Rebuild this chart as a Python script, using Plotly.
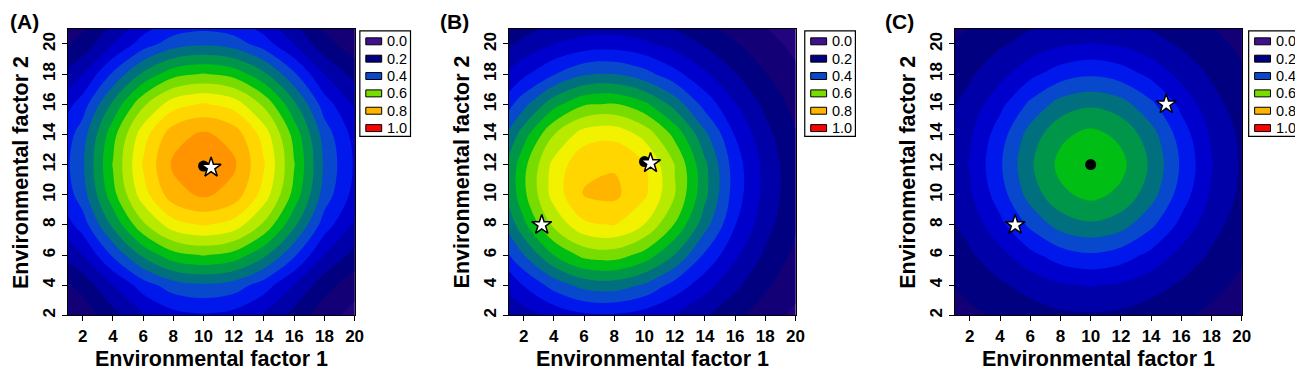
import plotly.graph_objects as go

W, H = 1303, 369
FONT = "Liberation Sans, Arial, Helvetica, sans-serif"

# ---------------- data ----------------
x_grid = [0, 2, 4, 6, 8, 10, 12, 14, 16, 18, 20]
y_grid = [2, 4, 6, 8, 10, 12, 14, 16, 18, 20, 22]

# Panel A surface (rows = y_grid, columns = x_grid)
z_A = [
    [0.133, 0.171, 0.233, 0.292, 0.332, 0.344, 0.332, 0.292, 0.233, 0.171, 0.133],
    [0.171, 0.219, 0.299, 0.375, 0.427, 0.442, 0.427, 0.375, 0.299, 0.219, 0.171],
    [0.233, 0.299, 0.408, 0.511, 0.582, 0.603, 0.582, 0.511, 0.408, 0.299, 0.233],
    [0.292, 0.375, 0.511, 0.640, 0.729, 0.755, 0.729, 0.640, 0.511, 0.375, 0.292],
    [0.332, 0.427, 0.582, 0.729, 0.830, 0.859, 0.830, 0.729, 0.582, 0.427, 0.332],
    [0.344, 0.442, 0.603, 0.755, 0.859, 0.890, 0.859, 0.755, 0.603, 0.442, 0.344],
    [0.332, 0.427, 0.582, 0.729, 0.830, 0.859, 0.830, 0.729, 0.582, 0.427, 0.332],
    [0.292, 0.375, 0.511, 0.640, 0.729, 0.755, 0.729, 0.640, 0.511, 0.375, 0.292],
    [0.233, 0.299, 0.408, 0.511, 0.582, 0.603, 0.582, 0.511, 0.408, 0.299, 0.233],
    [0.171, 0.219, 0.299, 0.375, 0.427, 0.442, 0.427, 0.375, 0.299, 0.219, 0.171],
    [0.133, 0.171, 0.233, 0.292, 0.332, 0.344, 0.332, 0.292, 0.233, 0.171, 0.133],
]

# Panel B surface
z_B = [
    [0.232, 0.277, 0.315, 0.340, 0.344, 0.327, 0.295, 0.255, 0.214, 0.175, 0.140],
    [0.288, 0.352, 0.420, 0.469, 0.476, 0.443, 0.381, 0.321, 0.262, 0.209, 0.165],
    [0.345, 0.448, 0.551, 0.616, 0.625, 0.582, 0.498, 0.392, 0.310, 0.242, 0.188],
    [0.397, 0.537, 0.661, 0.740, 0.752, 0.698, 0.597, 0.470, 0.352, 0.269, 0.205],
    [0.433, 0.587, 0.721, 0.803, 0.812, 0.760, 0.652, 0.513, 0.375, 0.284, 0.215],
    [0.431, 0.584, 0.716, 0.790, 0.795, 0.752, 0.649, 0.511, 0.374, 0.283, 0.214],
    [0.390, 0.528, 0.649, 0.725, 0.736, 0.685, 0.586, 0.462, 0.347, 0.266, 0.203],
    [0.336, 0.433, 0.533, 0.595, 0.604, 0.562, 0.481, 0.381, 0.303, 0.238, 0.184],
    [0.278, 0.339, 0.397, 0.444, 0.451, 0.419, 0.366, 0.309, 0.253, 0.203, 0.161],
    [0.222, 0.264, 0.300, 0.322, 0.326, 0.310, 0.281, 0.244, 0.205, 0.169, 0.136],
    [0.175, 0.202, 0.225, 0.239, 0.241, 0.232, 0.214, 0.189, 0.163, 0.136, 0.112],
]

# Panel C surface
z_C = [
    [0.167, 0.189, 0.209, 0.227, 0.239, 0.243, 0.239, 0.227, 0.209, 0.189, 0.167],
    [0.189, 0.216, 0.243, 0.268, 0.293, 0.303, 0.293, 0.268, 0.243, 0.216, 0.189],
    [0.209, 0.243, 0.284, 0.336, 0.376, 0.393, 0.376, 0.336, 0.284, 0.243, 0.209],
    [0.227, 0.268, 0.336, 0.411, 0.471, 0.492, 0.471, 0.411, 0.336, 0.268, 0.227],
    [0.239, 0.293, 0.376, 0.471, 0.539, 0.564, 0.539, 0.471, 0.376, 0.293, 0.239],
    [0.243, 0.303, 0.393, 0.492, 0.564, 0.590, 0.564, 0.492, 0.393, 0.303, 0.243],
    [0.239, 0.293, 0.376, 0.471, 0.539, 0.564, 0.539, 0.471, 0.376, 0.293, 0.239],
    [0.227, 0.268, 0.336, 0.411, 0.471, 0.492, 0.471, 0.411, 0.336, 0.268, 0.227],
    [0.209, 0.243, 0.284, 0.336, 0.376, 0.393, 0.376, 0.336, 0.284, 0.243, 0.209],
    [0.189, 0.216, 0.243, 0.268, 0.293, 0.303, 0.293, 0.268, 0.243, 0.216, 0.189],
    [0.167, 0.189, 0.209, 0.227, 0.239, 0.243, 0.239, 0.227, 0.209, 0.189, 0.167],
]

# optimum (black dot) and stars
dot_A_x, dot_A_y = [10.0], [11.9]
star_A_x, star_A_y = [10.5], [11.8]
dot_B_x, dot_B_y = [10.0], [12.2]
star_B_x, star_B_y = [10.4, 3.2], [12.1, 8.0]
dot_C_x, dot_C_y = [10.0], [12.0]
star_C_x, star_C_y = [15.0, 5.0], [16.0, 8.0]

# contour bands 0.00-0.05, 0.05-0.10, ... 0.95-1.00, then >=1.0
band_colors = [
    "#40108F", "#300A88", "#22057E", "#140076", "#000080",
    "#0000A8", "#0000CC", "#0018EC", "#0848CC", "#00707F",
    "#00964A", "#00BE14", "#78DC00", "#B8EA00", "#F2F200",
    "#FFD600", "#FFB400", "#FF9400", "#FF6000", "#FF2A00",
    "#FF0000",
]
legend_labels = ["0.0", "0.2", "0.4", "0.6", "0.8", "1.0"]
legend_colors = ["#40108F", "#000080", "#0848CC", "#78DC00", "#FFB400", "#FF0000"]

tick_vals = [2, 4, 6, 8, 10, 12, 14, 16, 18, 20]
panel_labels = ["(A)", "(B)", "(C)"]
x_title = "Environmental factor 1"
y_title = "Environmental factor 2"

# ---------------- figure ----------------
# colorscale aligned so that band k (level 0.05k) is filled with band_colors[k]
colorscale = [[0.0, band_colors[0]]]
for k in range(20):
    colorscale.append([(k + 1) / 21.0, band_colors[k]])
colorscale.append([1.0, band_colors[20]])


def px_x(p):
    return p / W


def px_y(p):
    return 1.0 - p / H


PLOT_W = 289.0
TOP, BOTTOM = 21.0, 309.0
panels = [
    dict(z=z_A, dx=dot_A_x, dy=dot_A_y, sx=star_A_x, sy=star_A_y,
         left=60.0, leg=354.3, ytx=13.0, lab=0.0),
    dict(z=z_B, dx=dot_B_x, dy=dot_B_y, sx=star_B_x, sy=star_B_y,
         left=504.0, leg=802.3, ytx=457.5, lab=433.0),
    dict(z=z_C, dx=dot_C_x, dy=dot_C_y, sx=star_C_x, sy=star_C_y,
         left=953.3, leg=1249.3, ytx=906.0, lab=881.5),
]

fig = go.Figure()
layout = dict(
    width=W, height=H, margin=dict(l=0, r=0, t=0, b=0),
    paper_bgcolor="white", plot_bgcolor="white", showlegend=False,
    font=dict(family=FONT, color="black"),
)
shapes, annotations = [], []

for i, p in enumerate(panels):
    n = "" if i == 0 else str(i + 1)
    xa, ya = "x" + n, "y" + n
    fig.add_trace(go.Contour(
        x=x_grid, y=y_grid, z=p["z"], xaxis=xa, yaxis=ya,
        autocontour=False,
        contours=dict(start=0, end=1, size=0.05, coloring="fill", showlines=False),
        colorscale=colorscale, showscale=False,
        line=dict(width=0, smoothing=1), hoverinfo="skip",
    ))
    fig.add_trace(go.Scatter(
        x=p["dx"], y=p["dy"], mode="markers", xaxis=xa, yaxis=ya,
        marker=dict(symbol="circle", size=11, color="black"), hoverinfo="skip",
    ))
    fig.add_trace(go.Scatter(
        x=p["sx"], y=p["sy"], mode="markers", xaxis=xa, yaxis=ya,
        marker=dict(symbol="star", size=15, color="white",
                    line=dict(color="black", width=1.5)), hoverinfo="skip",
    ))
    axis_common = dict(
        tickvals=tick_vals, ticks="outside", ticklen=5, tickwidth=1,
        tickcolor="black", showline=True, linecolor="black", linewidth=1,
        mirror=True, showgrid=False, zeroline=False,
        tickfont=dict(family=FONT, size=17, color="black", weight="bold"),
    )
    layout["xaxis" + n] = dict(
        domain=[px_x(p["left"]), px_x(p["left"] + PLOT_W)], range=[1, 20],
        anchor=ya, **axis_common)
    layout["yaxis" + n] = dict(
        domain=[px_y(BOTTOM), px_y(TOP)], range=[2, 21], anchor=xa,
        tickangle=-90, **axis_common)

    # axis titles
    annotations.append(dict(
        x=px_x(p["left"] + PLOT_W / 2), y=px_y(353), xref="paper", yref="paper",
        text=x_title, showarrow=False, xanchor="center", yanchor="middle",
        font=dict(family=FONT, size=21.5, color="black", weight="bold")))
    annotations.append(dict(
        x=px_x(p["ytx"]), y=px_y((TOP + BOTTOM) / 2), xref="paper", yref="paper",
        text=y_title, showarrow=False, textangle=-90, xanchor="center",
        yanchor="middle",
        font=dict(family=FONT, size=21.5, color="black", weight="bold")))
    # panel label
    annotations.append(dict(
        x=px_x(p["lab"]), y=px_y(13.5), xref="paper", yref="paper",
        text=panel_labels[i], showarrow=False, xanchor="left", yanchor="middle",
        font=dict(family=FONT, size=21, color="black", weight="bold")))

    # legend box
    L = p["leg"]
    shapes.append(dict(type="rect", xref="paper", yref="paper",
                       x0=px_x(L), x1=px_x(L + 51), y0=px_y(129), y1=px_y(23),
                       line=dict(color="black", width=1.2), fillcolor="white"))
    for j, (lab, col) in enumerate(zip(legend_labels, legend_colors)):
        cy = 33.5 + 17.45 * j
        shapes.append(dict(type="rect", xref="paper", yref="paper",
                           x0=px_x(L + 6), x1=px_x(L + 22),
                           y0=px_y(cy + 3.5), y1=px_y(cy - 3.5),
                           line=dict(color="black", width=1), fillcolor=col))
        annotations.append(dict(
            x=px_x(L + 25.5), y=px_y(cy), xref="paper", yref="paper",
            text=lab, showarrow=False, xanchor="left", yanchor="middle",
            font=dict(family=FONT, size=14.5, color="black")))

layout["shapes"] = shapes
layout["annotations"] = annotations
fig.update_layout(**layout)
fig.write_html("out.html")
